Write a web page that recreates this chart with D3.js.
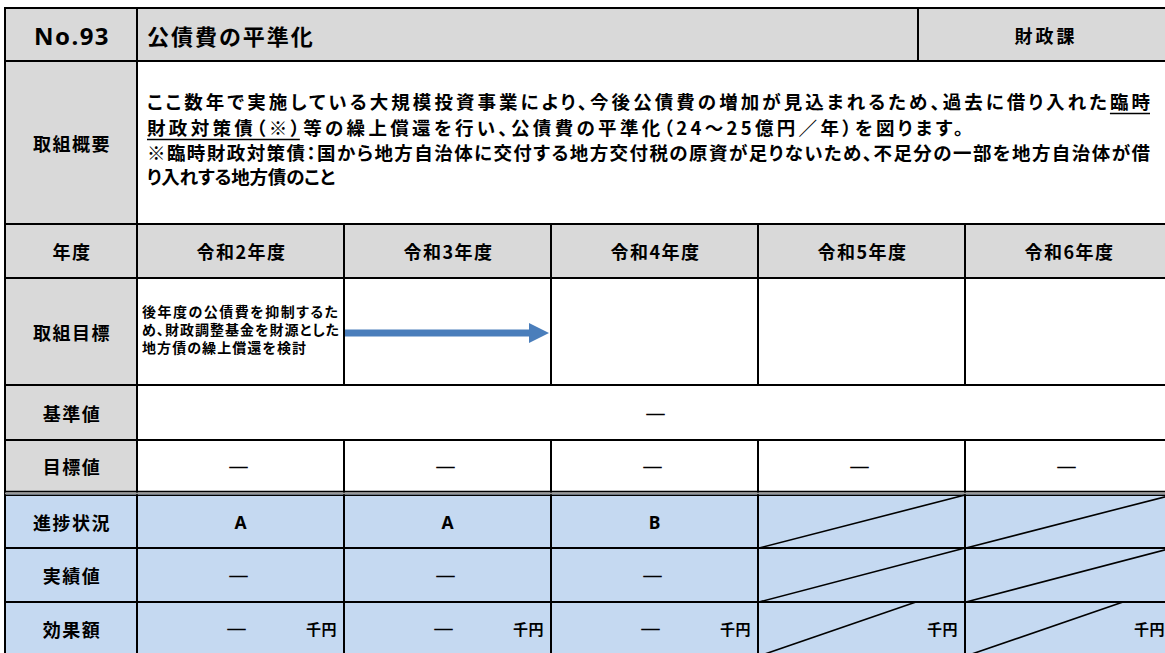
<!DOCTYPE html>
<html><head><meta charset="utf-8">
<script src="https://cdn.jsdelivr.net/npm/d3@7"></script>
<style>
html,body{margin:0;padding:0;background:#fff;overflow:hidden;}
svg{display:block;}
text{font-family:"Noto Sans CJK JP","Noto Sans",sans-serif;font-weight:700;fill:#000;font-feature-settings:"palt";}
text.dash{font-feature-settings:normal;stroke:#000;stroke-width:0.6;}
</style></head><body>
<svg id="c" width="1165" height="653"></svg>
<script>
// ---------- data ----------
const projectNo = "No.93";
const projectTitle = "公債費の平準化";
const department = "財政課";
const summaryLabel = "取組概要";
const summaryLines = [
  "ここ数年で実施している大規模投資事業により、今後公債費の増加が見込まれるため、過去に借り入れた臨時",
  "財政対策債（※）等の繰上償還を行い、公債費の平準化（24～25億円／年）を図ります。",
  "※臨時財政対策債：国から地方自治体に交付する地方交付税の原資が足りないため、不足分の一部を地方自治体が借",
  "り入れする地方債のこと"
];
// underlined passages: [line index, start char, end char (exclusive)]
const summaryUnderlines = [[0, 47, 49], [1, 0, 8]];
const years = ["令和2年度", "令和3年度", "令和4年度", "令和5年度", "令和6年度"];
const rowLabels = ["年度", "取組目標", "基準値", "目標値", "進捗状況", "実績値", "効果額"];
const goalLines = ["後年度の公債費を抑制するた", "め、財政調整基金を財源とした", "地方債の繰上償還を検討"];
const goalArrowYear = "令和3年度";
const baselineValue = "―";
const targetValues = ["―", "―", "―", "―", "―"];
const progressValues = ["A", "A", "B", null, null];
const actualValues = ["―", "―", "―", null, null];
const effectValues = ["―", "―", "―", null, null];
const effectUnit = "千円";

// ---------- layout ----------
const L = 5, T = 8, R = 1172, labelW = 137, B = 656;
const headH = 61, summaryBottom = 224;
const deptX = 918;
const rowTops = [224, 278, 385, 440, 495, 548, 602];
const rowBottoms = [278, 385, 440, 492, 548, 602, 656];
const GRAY = "#d9d9d9", BLUE = "#c5d9f1", LINE = "#000";

const svg = d3.select("#c");
const x = d3.scaleBand().domain(years).range([labelW, R]).padding(0);
const yTop = d3.scaleOrdinal().domain(rowLabels).range(rowTops);
const yBot = d3.scaleOrdinal().domain(rowLabels).range(rowBottoms);
const yMid = r => (yTop(r) + yBot(r)) / 2;

// ---------- backgrounds ----------
const bg = svg.append("g");
bg.append("rect").attr("x", L).attr("y", T).attr("width", R - L).attr("height", headH - T).attr("fill", GRAY);
bg.append("rect").attr("x", L).attr("y", headH).attr("width", labelW - L).attr("height", 492 - headH).attr("fill", GRAY);
bg.append("rect").attr("x", labelW).attr("y", yTop("年度")).attr("width", R - labelW).attr("height", yBot("年度") - yTop("年度")).attr("fill", GRAY);
bg.append("rect").attr("x", L).attr("y", 493).attr("width", R - L).attr("height", B - 493).attr("fill", BLUE);

// ---------- grid lines ----------
const g = svg.append("g").attr("stroke", LINE).attr("stroke-width", 2).attr("fill", "none");
function hline(y, x1, x2, w) { g.append("line").attr("x1", x1).attr("x2", x2).attr("y1", y).attr("y2", y).attr("stroke-width", w || 2); }
function vline(xx, y1, y2, w) { g.append("line").attr("x1", xx).attr("x2", xx).attr("y1", y1).attr("y2", y2).attr("stroke-width", w || 2); }
hline(T, L - 1, R);
hline(headH, L, R);
hline(summaryBottom, L, R);
["年度", "取組目標", "基準値"].forEach(r => hline(yBot(r), L, R));
hline(yTop("進捗状況") + 0.2, L, R, 1.6);
svg.append("rect").attr("x", L).attr("y", 492.6).attr("width", R - L).attr("height", 1.6).attr("fill", "#9a9a9a");
hline(491.6, L, R, 1.6);
hline(yBot("進捗状況"), L, R);
hline(yBot("実績値"), L, R);
vline(L, T - 1, B);
vline(labelW, T, B);
vline(deptX, T, headH);
vline(R, T, B);
years.slice(1).forEach(yr => {
  vline(x(yr), yTop("年度"), yBot("取組目標"));
  vline(x(yr), yTop("目標値"), B);
});

// ---------- texts ----------
const t = svg.append("g");
function txt(s, xx, yy, opts) {
  const o = Object.assign({ size: 17, anchor: "middle", ls: 0 }, opts || {});
  const el = t.append("text").attr("x", xx).attr("y", yy).attr("font-size", o.size)
    .attr("text-anchor", o.anchor).attr("dominant-baseline", "central")
    .style("letter-spacing", o.ls + "px").text(s);
  if (o.len) el.attr("textLength", o.len).attr("lengthAdjust", "spacing");
  if (s === "―") el.attr("class", "dash");
  return el;
}
txt(projectNo, (L + labelW) / 2 + 1, 35, { size: 24, ls: 1.5, anchor: "middle" }).style("font-family", "'Noto Sans','DejaVu Sans',sans-serif");
txt(projectTitle, 147, 35, { size: 22, anchor: "start", ls: 2 });
txt(department, (deptX + R) / 2 + 1, 35, { size: 18, ls: 3 });
txt(summaryLabel, (L + labelW) / 2 + 1, 143, { size: 18, ls: 1.5 });

const sumY = [101, 127, 152, 176];
const sumEnd = [1150, 963, 1150, 335];
const sumEls = summaryLines.map((s, i) => txt(s, 147, sumY[i], { size: 18.5, anchor: "start", len: sumEnd[i] - 147 }));
summaryUnderlines.forEach(([li, a, b]) => {
  const node = sumEls[li].node();
  const x1 = node.getStartPositionOfChar(a).x;
  const x2 = node.getEndPositionOfChar(b - 1).x;
  svg.append("line").attr("x1", x1).attr("x2", x2).attr("y1", sumY[li] + 12.5).attr("y2", sumY[li] + 12.5)
    .attr("stroke", "#000").attr("stroke-width", 1.6);
});

rowLabels.forEach(r => txt(r, (L + labelW) / 2 + 1, yMid(r), { size: 18, ls: 1.5 }));
years.forEach(yr => txt(yr, x(yr) + x.bandwidth() / 2 + 1, yMid("年度"), { size: 18, ls: 1.5 }));

// goal text
const goalY = [311, 329, 347];
const goalEnd = [338, 339, 306];
goalLines.forEach((s, i) => txt(s, 142, goalY[i], { size: 14, anchor: "start", len: goalEnd[i] - 142 }));

// goal arrow
(function () {
  const x0 = x(goalArrowYear) + 1, x1 = x(goalArrowYear) + x.bandwidth() - 2;
  const cy = 333, sh = 3.5, hh = 10, hl = 20;
  const p = d3.path();
  p.moveTo(x0, cy - sh); p.lineTo(x1 - hl, cy - sh); p.lineTo(x1 - hl, cy - hh); p.lineTo(x1, cy);
  p.lineTo(x1 - hl, cy + hh); p.lineTo(x1 - hl, cy + sh); p.lineTo(x0, cy + sh); p.closePath();
  svg.append("path").attr("d", p.toString()).attr("fill", "#4a7ebb");
})();

// baseline merged
txt(baselineValue, (labelW + R) / 2 + 1, yMid("基準値"), { size: 21 });
// targets
targetValues.forEach((v, i) => txt(v, x(years[i]) + x.bandwidth() / 2 - 2, yMid("目標値"), { size: 21 }));

// diagonal helper
const diag = svg.append("g").attr("stroke", "#000").attr("stroke-width", 1.6);
function diagonal(x1, y1, x2, y2) { diag.append("line").attr("x1", x1).attr("y1", y1).attr("x2", x2).attr("y2", y2); }

progressValues.forEach((v, i) => {
  const cx = x(years[i]);
  if (v === null) diagonal(cx + 1, yBot("進捗状況"), cx + x.bandwidth(), yTop("進捗状況"));
  else txt(v, cx + x.bandwidth() / 2, yMid("進捗状況"), { size: 17.5 }).style("font-family", "'Noto Sans','DejaVu Sans',sans-serif");
});
actualValues.forEach((v, i) => {
  const cx = x(years[i]);
  if (v === null) diagonal(cx + 1, yBot("実績値"), cx + x.bandwidth(), yTop("実績値"));
  else txt(v, cx + x.bandwidth() / 2 - 2, yMid("実績値"), { size: 21 });
});
effectValues.forEach((v, i) => {
  const cx = x(years[i]);
  if (v === null) diagonal(cx + 1, yBot("効果額"), cx + 158, yTop("効果額"));
  else txt(v, cx + x.bandwidth() / 2 - 4, yMid("効果額") - 1, { size: 21 });
  txt(effectUnit, cx + x.bandwidth() - 7, yMid("効果額") - 1, { size: 15, anchor: "end", ls: 0.5 });
});
</script>
</body></html>
